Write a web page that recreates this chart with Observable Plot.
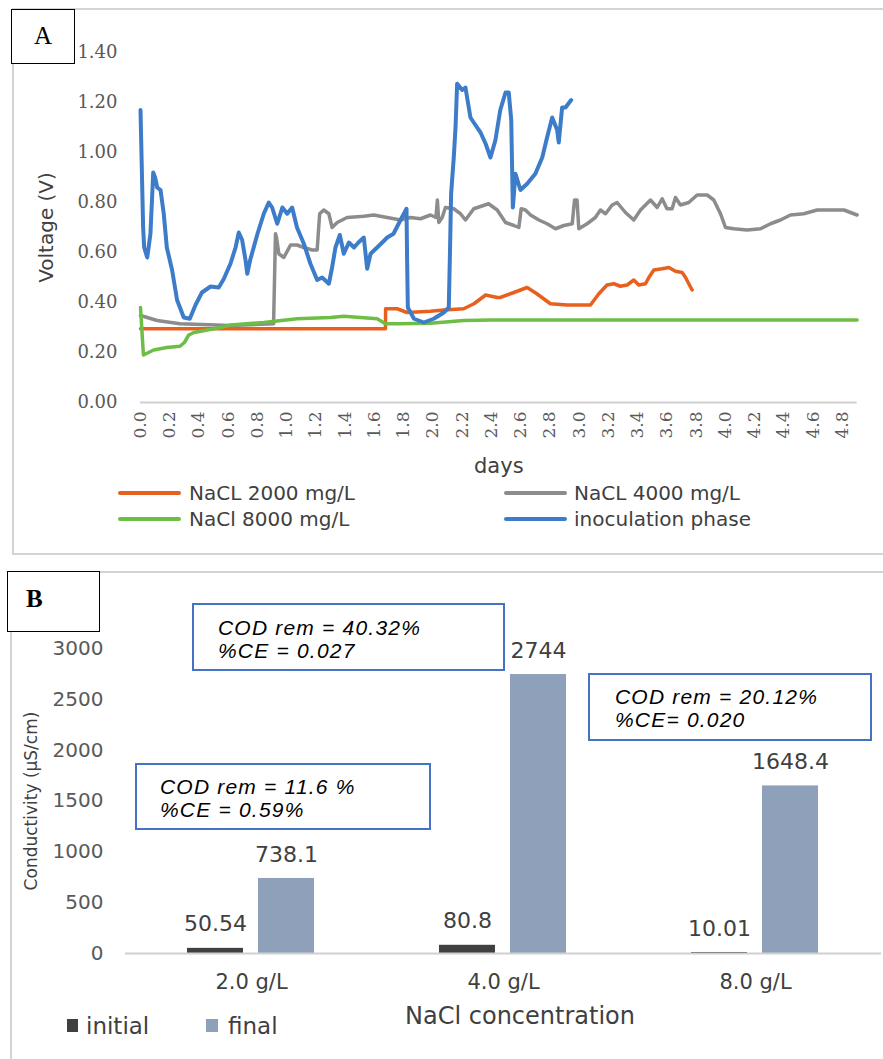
<!DOCTYPE html>
<html><head><meta charset="utf-8">
<script src="https://cdn.jsdelivr.net/npm/d3@7"></script>
<script src="https://cdn.jsdelivr.net/npm/@observablehq/plot@0.6"></script>
<style>
body{margin:0;background:#fff;}
#root{position:relative;width:883px;height:1059px;overflow:hidden;background:#fff;}
#root > *{position:absolute;box-sizing:border-box;}
.lbl{font-family:"DejaVu Sans";color:#404040;white-space:nowrap;}
.note{background:#fff;border:2px solid #4472C4;font-family:"Liberation Sans";font-style:italic;font-size:21px;letter-spacing:1.2px;color:#000;line-height:23px;white-space:nowrap;}
</style></head><body><div id="root"></div>
<script>
// ---------- Panel A data: voltage vs days ----------
const dayTicks = [0.0,0.2,0.4,0.6,0.8,1.0,1.2,1.4,1.6,1.8,2.0,2.2,2.4,2.6,2.8,3.0,3.2,3.4,3.6,3.8,4.0,4.2,4.4,4.6,4.8];
const voltTicks = [0.00,0.20,0.40,0.60,0.80,1.00,1.20,1.40];
const seriesA = ["NaCL 2000 mg/L","NaCL 4000 mg/L","NaCl 8000 mg/L","inoculation phase"];
const colorsA = ["#E8601E","#8C8C8C","#6DBE45","#3C7CC9"];

const nacl2000 = [[0,0.295],[1.675,0.295],[1.676,0.375],[1.755,0.375],[1.823,0.36],[1.983,0.365],[2.074,0.37],[2.21,0.375],[2.28,0.395],[2.36,0.43],[2.44,0.42],[2.46,0.42],[2.553,0.44],[2.644,0.46],[2.71,0.435],[2.803,0.395],[2.918,0.39],[3.077,0.39],[3.134,0.435],[3.19,0.47],[3.236,0.475],[3.282,0.465],[3.328,0.47],[3.373,0.49],[3.407,0.47],[3.453,0.475],[3.476,0.50],[3.51,0.53],[3.567,0.535],[3.613,0.54],[3.658,0.525],[3.704,0.52],[3.727,0.50],[3.749,0.475],[3.772,0.45]];

const nacl4000 = [[0,0.348],[0.114,0.328],[0.27,0.315],[0.615,0.308],[0.91,0.315],[0.923,0.675],[0.93,0.66],[0.946,0.595],[0.98,0.58],[1.026,0.63],[1.07,0.63],[1.117,0.62],[1.174,0.61],[1.208,0.61],[1.225,0.755],[1.253,0.77],[1.288,0.755],[1.31,0.70],[1.345,0.72],[1.413,0.74],[1.527,0.745],[1.595,0.75],[1.687,0.74],[1.778,0.73],[1.846,0.74],[1.915,0.735],[1.983,0.75],[2.02,0.74],[2.03,0.81],[2.04,0.72],[2.063,0.74],[2.085,0.78],[2.142,0.775],[2.188,0.755],[2.222,0.73],[2.279,0.775],[2.38,0.795],[2.439,0.77],[2.496,0.72],[2.553,0.708],[2.587,0.70],[2.603,0.775],[2.632,0.77],[2.667,0.75],[2.724,0.73],[2.78,0.715],[2.838,0.695],[2.895,0.708],[2.952,0.715],[2.968,0.81],[2.985,0.81],[2.997,0.695],[3.054,0.715],[3.11,0.74],[3.145,0.77],[3.18,0.755],[3.225,0.79],[3.259,0.80],[3.316,0.76],[3.373,0.73],[3.419,0.77],[3.487,0.81],[3.533,0.78],[3.567,0.815],[3.60,0.775],[3.635,0.775],[3.658,0.82],[3.692,0.79],[3.749,0.80],[3.806,0.83],[3.875,0.83],[3.92,0.81],[3.966,0.755],[4.0,0.70],[4.057,0.695],[4.148,0.69],[4.24,0.695],[4.308,0.715],[4.376,0.73],[4.444,0.75],[4.535,0.755],[4.627,0.77],[4.718,0.77],[4.81,0.77],[4.855,0.76],[4.90,0.75]];

const nacl8000 = [[0,0.38],[0.02,0.19],[0.09,0.21],[0.18,0.22],[0.27,0.225],[0.30,0.24],[0.33,0.27],[0.365,0.28],[0.456,0.29],[0.547,0.30],[0.615,0.31],[0.843,0.32],[1.07,0.335],[1.30,0.34],[1.39,0.345],[1.504,0.34],[1.618,0.335],[1.675,0.315],[1.755,0.315],[1.983,0.317],[2.21,0.328],[2.4,0.33],[3.4,0.33],[4.9,0.33]];

const inoculation = [[0.000,1.17],[0.018,0.70],[0.025,0.62],[0.046,0.58],[0.068,0.675],[0.087,0.92],[0.100,0.90],[0.114,0.86],[0.137,0.85],[0.159,0.755],[0.180,0.62],[0.216,0.53],[0.250,0.41],[0.296,0.34],[0.337,0.335],[0.376,0.39],[0.420,0.44],[0.479,0.464],[0.535,0.46],[0.570,0.495],[0.615,0.555],[0.650,0.62],[0.672,0.68],[0.695,0.65],[0.718,0.57],[0.730,0.515],[0.750,0.57],[0.800,0.675],[0.843,0.755],[0.877,0.80],[0.900,0.78],[0.935,0.715],[0.970,0.78],[1.003,0.755],[1.037,0.78],[1.070,0.70],[1.117,0.635],[1.162,0.555],[1.208,0.49],[1.242,0.50],[1.288,0.475],[1.310,0.54],[1.333,0.62],[1.363,0.67],[1.390,0.595],[1.425,0.64],[1.460,0.62],[1.490,0.64],[1.527,0.66],[1.550,0.535],[1.573,0.595],[1.618,0.62],[1.653,0.64],[1.687,0.66],[1.730,0.675],[1.778,0.73],[1.819,0.775],[1.823,0.57],[1.828,0.38],[1.870,0.335],[1.937,0.32],[2.005,0.335],[2.074,0.36],[2.108,0.38],[2.115,0.57],[2.124,0.835],[2.142,0.98],[2.154,1.10],[2.165,1.275],[2.200,1.25],[2.222,1.26],[2.256,1.14],[2.290,1.11],[2.325,1.08],[2.360,1.035],[2.393,0.98],[2.427,1.05],[2.460,1.17],[2.496,1.24],[2.518,1.24],[2.535,1.13],[2.546,0.78],[2.564,0.915],[2.598,0.85],[2.644,0.875],[2.700,0.915],[2.747,0.98],[2.780,1.06],[2.815,1.14],[2.849,1.09],[2.860,1.04],[2.883,1.18],[2.906,1.18],[2.945,1.21]];

// ---------- Panel B data: conductivity ----------
const categories = ["2.0 g/L","4.0 g/L","8.0 g/L"];
const seriesB = ["initial","final"];
const colorsB = ["#404040","#8FA0BA"];
const initialValues = [50.54, 80.8, 10.01];
const finalValues = [738.1, 2744, 1648.4];
const condTicks = [0,500,1000,1500,2000,2500,3000];
const notes = [
  ["COD rem = 40.32%","%CE = 0.027"],
  ["COD rem = 11.6 %","%CE = 0.59%"],
  ["COD rem = 20.12%","%CE= 0.020"]
];

const root = document.getElementById("root");
function el(tag, css, html, cls){ const e=document.createElement(tag); e.style.cssText=css; if(html!==undefined) e.innerHTML=html; if(cls) e.className=cls; root.appendChild(e); return e; }

// panel frames
el("div","left:12px;top:8px;width:900px;height:547px;border:2px solid #d4d4d4;");
el("div","left:10px;top:571px;width:900px;height:520px;border:2px solid #d4d4d4;");

// ---------- Chart A ----------
const toRows = (arr, s) => arr.map(([d,v]) => ({series:s, day:d, v}));
const dataA = [nacl2000, nacl4000, nacl8000, inoculation];
const chartA = Plot.plot({
  width: 883, height: 555,
  marginTop: 52, marginBottom: 153, marginLeft: 140, marginRight: 26.4,
  style: {fontFamily:"DejaVu Sans", fontSize:"16px", background:"transparent", overflow:"visible"},
  x: {domain:[0,4.9]},
  y: {domain:[0,1.4]},
  color: {domain: seriesA, range: colorsA},
  marks: [
    Plot.ruleY([0], {stroke:"#d0d0d0", strokeWidth:2}),
    Plot.axisY({ticks: voltTicks, tickFormat: d3.format(".2f"), tickSize:0, tickPadding:23, fontSize:18, fontFamily:"DejaVu Serif", color:"#595959", label:null}),
    Plot.axisX({ticks: dayTicks, tickFormat: d3.format(".1f"), tickRotate:-90, tickSize:0, tickPadding:9, fontSize:17, fontFamily:"DejaVu Serif", color:"#595959", label:null}),
    ...dataA.map((arr,i) => Plot.line(toRows(arr, seriesA[i]), {x:"day", y:"v", stroke:"series", strokeWidth: i === 3 ? 4 : 3.5, strokeLinejoin:"round", strokeLinecap:"round"})),
    Plot.text(["Voltage (V)"], {text:d=>d, frameAnchor:"left", textAnchor:"middle", dx:-94, rotate:-90, fontSize:20, fill:"#404040"}),
    Plot.text(["days"], {text:d=>d, frameAnchor:"bottom", dy:70, fontSize:21, fill:"#404040"})
  ]
});
chartA.style.position="absolute"; chartA.style.left="0px"; chartA.style.top="0px";
root.appendChild(chartA);

// legend A
const legA = [[118,493,189],[504,493,574],[118,519,189],[504,519,574]];
seriesA.forEach((s,i) => {
  const [lx, ly, tx] = legA[i];
  el("div",`left:${lx}px;top:${ly-1.75}px;width:63px;height:3.5px;border-radius:2px;background:${colorsA[i]};`);
  el("div",`left:${tx}px;top:${ly-13}px;line-height:26px;font-size:20px;`, s, "lbl");
});

// ---------- Chart B ----------
const barRows = categories.flatMap((c,i) => [
  {cat:c, series:seriesB[0], value:initialValues[i]},
  {cat:c, series:seriesB[1], value:finalValues[i]}
]);
const chartB = Plot.plot({
  width: 883, height: 488,
  marginTop: 77, marginBottom: 106, marginLeft: 124, marginRight: 1.5,
  style: {fontFamily:"DejaVu Sans", fontSize:"16px", background:"transparent", overflow:"visible"},
  fx: {domain: categories, padding: 0, label: null},
  x: {domain: seriesB, paddingInner: 0.208, paddingOuter: 0.857, axis: null},
  y: {domain: [0,3000]},
  color: {domain: seriesB, range: colorsB},
  marks: [
    Plot.axisY({ticks: condTicks, tickFormat: d=>String(d), tickSize:0, tickPadding:22, fontSize:20, color:"#595959", label:null}),
    Plot.axisFx({anchor:"bottom", tickSize:0, tickPadding:21, fontSize:21, color:"#404040", label:null}),
    Plot.barY(barRows, {fx:"cat", x:"series", y:"value", fill:"series"}),
    Plot.ruleY([0], {stroke:"#d0d0d0", strokeWidth:2}),
    Plot.text(barRows, {fx:"cat", x:"series", y:"value", text:d=>String(d.value), dy:-24, fontSize:22, fill:"#404040"}),
    Plot.text(["Conductivity (µS/cm)"], {fx:[categories[0]], text:d=>d, frameAnchor:"left", textAnchor:"middle", dx:-94, rotate:-90, fontSize:17, fill:"#404040"})
  ]
});
chartB.style.position="absolute"; chartB.style.left="0px"; chartB.style.top="571px";
root.appendChild(chartB);

el("div","left:520px;top:1016px;transform:translate(-50%,-50%);font-size:24px;line-height:30px;","NaCl concentration","lbl");
// legend B
el("div",`left:67px;top:1019px;width:11px;height:13px;background:${colorsB[0]};`);
el("div","left:86px;top:1011px;font-size:23px;line-height:30px;", seriesB[0], "lbl");
el("div",`left:206px;top:1019px;width:12px;height:13px;background:${colorsB[1]};`);
el("div","left:228px;top:1011px;font-size:23px;line-height:30px;", seriesB[1], "lbl");

// notes
const noteBoxes = [[192,603,313,68,24,11],[135,763,296,67,23,10],[588,673,284,68,25,10]];
notes.forEach((n,i) => {
  const [l,t,w,h,pl,pt] = noteBoxes[i];
  el("div",`left:${l}px;top:${t}px;width:${w}px;height:${h}px;padding:${pt}px 0 0 ${pl}px;`, n.join("<br>"), "note");
});

// panel letters
el("div","left:11px;top:9px;width:64px;height:55px;border:1.5px solid #000;background:#fff;font-family:'Liberation Serif';font-size:25px;line-height:52px;text-align:center;color:#000;","A");
el("div","left:7px;top:571px;width:93px;height:61px;border:1.5px solid #000;background:#fff;font-family:'Liberation Serif';font-weight:bold;font-size:25px;line-height:54px;padding-left:18px;color:#000;","B");
</script></body></html>
